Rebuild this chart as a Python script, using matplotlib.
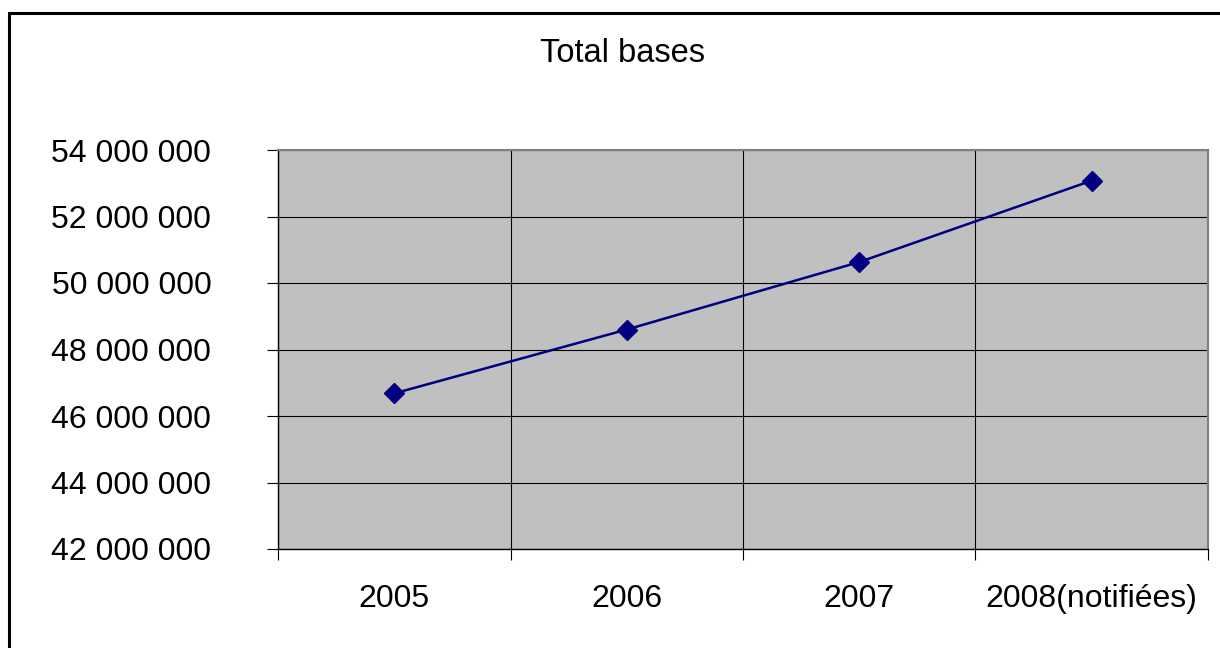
import matplotlib.pyplot as plt
from matplotlib.patches import Rectangle
from matplotlib.ticker import FuncFormatter, MultipleLocator, FixedLocator

# data
years = ['2005', '2006', '2007', '2008(notifiées)']
total_bases = [46680000, 48600000, 50630000, 53080000]

plt.rcParams['font.family'] = ['Liberation Sans', 'DejaVu Sans']

fig = plt.figure(figsize=(12.2, 6.48), dpi=100)
fig.patch.set_facecolor('white')

# outer chart frame (cut off at right / bottom like the original)
fig.patches.append(Rectangle((9 / 1220, -0.1), 1.2, 1 - 13 / 648 + 0.1,
                             transform=fig.transFigure, fill=False,
                             edgecolor='black', linewidth=2.2))

ax = fig.add_axes([278 / 1220, 1 - 549 / 648, 930 / 1220, 399 / 648])
ax.set_facecolor('#c0c0c0')

x = list(range(len(years)))
ax.plot(x, total_bases, color='#000080', linewidth=1.8,
        marker='D', markersize=10, zorder=3)

ax.set_xlim(-0.5, len(years) - 0.5)
ax.set_ylim(42000000, 54000000)
ax.yaxis.set_major_locator(MultipleLocator(2000000))
ax.yaxis.set_major_formatter(FuncFormatter(lambda v, p: f'{int(v):,}'.replace(',', ' ')))

ax.set_xticks(x)
ax.set_xticklabels(years)
ax.xaxis.set_minor_locator(FixedLocator([i - 0.5 for i in range(len(years) + 1)]))

ax.grid(True, which='major', axis='y', color='black', linewidth=0.8)
ax.grid(True, which='minor', axis='x', color='black', linewidth=0.8)
ax.set_axisbelow(True)

ax.tick_params(axis='x', which='major', length=0, pad=25, labelsize=23)
ax.tick_params(axis='x', which='minor', length=8, width=0.8, direction='out')
ax.tick_params(axis='y', length=8, width=0.8, pad=40, labelsize=23)

for s in ['top', 'right']:
    ax.spines[s].set_color('#808080')
    ax.spines[s].set_linewidth(1.5)
for s in ['left', 'bottom']:
    ax.spines[s].set_color('black')
    ax.spines[s].set_linewidth(1)

fig.text(622 / 1220, 1 - 53 / 648, 'Total bases', ha='center', va='center', fontsize=23.5)

plt.savefig('out.png', dpi=100)
